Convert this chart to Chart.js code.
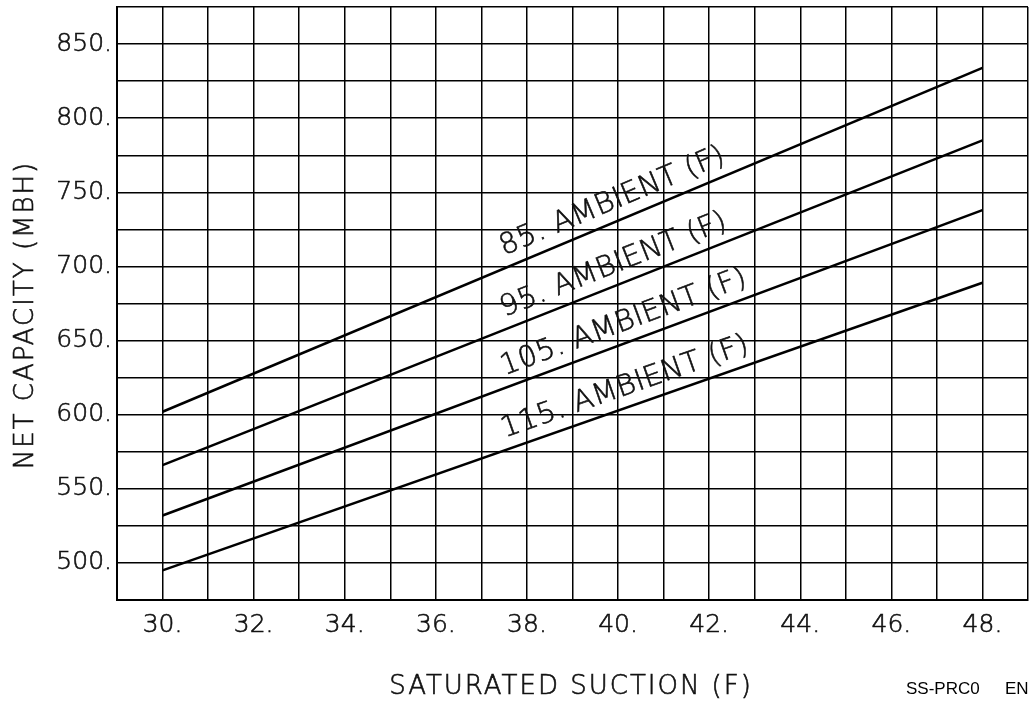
<!DOCTYPE html>
<html lang="en">
<head>
  <meta charset="UTF-8">
  <title>Net Capacity vs Saturated Suction</title>
  <script src="https://cdn.jsdelivr.net/npm/chart.js"></script>
  <style>
    html, body { margin: 0; padding: 0; background: #fff; }
    .chart-container { width: 1031px; height: 701px; position: relative; }
  </style>
</head>
<body>
  <div class="chart-container"><canvas id="capChart"></canvas></div>

  <script>
    // values (endpoints of straight lines)
    const suction = [30, 48];
    const amb85 = [602, 834];
    const amb95 = [566, 785];
    const amb105 = [532, 738];
    const amb115 = [495, 689];
    const ambientLabels = ["85. AMBIENT (F)", "95. AMBIENT (F)", "105. AMBIENT (F)", "115. AMBIENT (F)"];
    const labelStartX = 37.6;

    const FONT = "'DejaVu Sans', sans-serif";
    const INK = "#111";

    function pts(ys) {
      return suction.map((x, i) => ({ x: x, y: ys[i] }));
    }

    const series = [amb85, amb95, amb105, amb115];

    // no extra room for end labels, the frame sits at fixed spots
    function noPad(scale) {
      scale.paddingTop = 0;
      scale.paddingBottom = 0;
      scale.paddingLeft = 0;
      scale.paddingRight = 0;
    }

    // thin font + a light stroke, looks more like the plotter lettering
    function ink(ctx, txt, x, y) {
      ctx.fillText(txt, x, y);
      ctx.strokeText(txt, x, y);
    }

    // text along the curves + axis titles + footer
    const annotate = {
      id: "annotate",
      afterDatasetsDraw(chart) {
        const ctx = chart.ctx;
        const xs = chart.scales.x, ys = chart.scales.y;
        ctx.save();
        ctx.fillStyle = INK;
        ctx.strokeStyle = INK;
        ctx.lineWidth = 0.6;
        ctx.font = "200 29px " + FONT;
        ctx.letterSpacing = "0.5px";
        ctx.textBaseline = "alphabetic";
        ctx.textAlign = "left";
        series.forEach((s, i) => {
          const x0 = xs.getPixelForValue(suction[0]), y0 = ys.getPixelForValue(s[0]);
          const x1 = xs.getPixelForValue(suction[1]), y1 = ys.getPixelForValue(s[1]);
          const ang = Math.atan2(y1 - y0, x1 - x0);
          const t = (labelStartX - suction[0]) / (suction[1] - suction[0]);
          const px = x0 + (x1 - x0) * t, py = y0 + (y1 - y0) * t;
          ctx.save();
          ctx.translate(px, py);
          ctx.rotate(ang);
          ink(ctx, ambientLabels[i], 0, -12);
          ctx.restore();
        });

        ctx.font = "200 26px " + FONT;
        ctx.letterSpacing = "2px";
        ctx.textAlign = "center";
        ctx.textBaseline = "middle";
        ink(ctx, "SATURATED SUCTION (F)", 571, 687);

        ctx.save();
        ctx.translate(26, 315);
        ctx.rotate(-Math.PI / 2);
        ink(ctx, "NET CAPACITY (MBH)", 0, 0);
        ctx.restore();

        ctx.letterSpacing = "0px";
        ctx.font = "17px 'Liberation Sans', Arial, sans-serif";
        ctx.textAlign = "left";
        ctx.fillStyle = "#000";
        ctx.fillText("SS-PRC0", 906, 689);
        ctx.fillText("EN", 1005, 689);
        ctx.restore();
      }
    };

    const ctx = document.getElementById("capChart").getContext("2d");
    const capChart = new Chart(ctx, {
      type: "line",
      data: {
        datasets: series.map((s, i) => ({
          label: ambientLabels[i],
          data: pts(s),
          borderColor: "#000",
          borderWidth: 2.5,
          pointRadius: 0,
          fill: false,
          tension: 0
        }))
      },
      options: {
        responsive: true,
        maintainAspectRatio: false,
        animation: false,
        layout: { padding: { top: 7, right: 3, left: 0, bottom: 0 } },
        plugins: { legend: { display: false }, tooltip: { enabled: false } },
        scales: {
          x: {
            type: "linear",
            min: 29, max: 49,
            afterFit(scale) { scale.height = 101; noPad(scale); },
            ticks: {
              stepSize: 1,
              autoSkip: false,
              maxRotation: 0,
              padding: 10,
              color: INK,
              textStrokeColor: INK,
              textStrokeWidth: 0.6,
              font: { family: FONT, size: 25, weight: "200" },
              callback: v => (v % 2 === 0 && v >= 30 && v <= 48) ? v + "." : ""
            },
            grid: { color: "#000", lineWidth: 1.5, drawTicks: false },
            border: { color: "#000", width: 2 }
          },
          y: {
            min: 475, max: 875,
            afterFit(scale) { scale.width = 117; noPad(scale); },
            ticks: {
              stepSize: 25,
              autoSkip: false,
              padding: 5,
              color: INK,
              textStrokeColor: INK,
              textStrokeWidth: 0.6,
              font: { family: FONT, size: 25, weight: "200" },
              callback: v => (v % 50 === 0 && v >= 500 && v <= 850) ? v + "." : ""
            },
            grid: { color: "#000", lineWidth: 1.5, drawTicks: false },
            border: { color: "#000", width: 2 }
          }
        }
      },
      plugins: [annotate]
    });
  </script>
</body>
</html>
